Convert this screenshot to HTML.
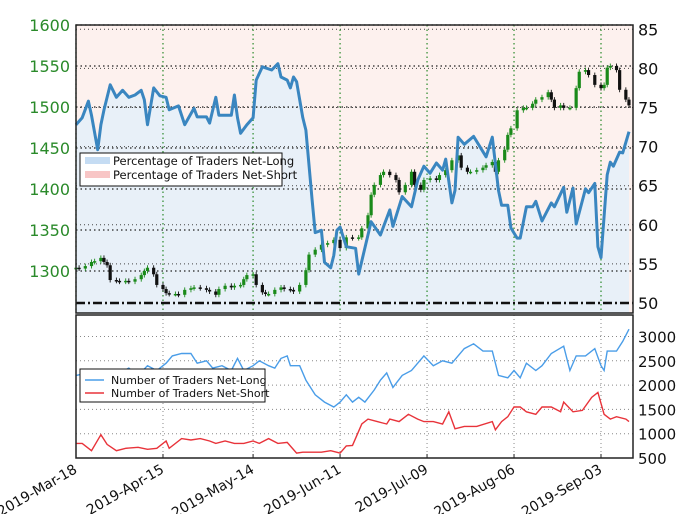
<!DOCTYPE html>
<html><head><meta charset="utf-8"><style>
body{margin:0;background:#fff;}
svg{display:block;font-family:"DejaVu Sans","Liberation Sans",sans-serif;}
</style></head><body>
<svg id="chart" width="680" height="514" viewBox="0 0 680 514" xmlns="http://www.w3.org/2000/svg"></svg>
<script>
// ---- data ----
const tickLabels = ["2019-Mar-18","2019-Apr-15","2019-May-14","2019-Jun-11","2019-Jul-09","2019-Aug-06","2019-Sep-03"];
const tickDays = [0,28,57,85,113,141,169];
const priceTicks = [1300,1350,1400,1450,1500,1550,1600];
const pctTicks = [50,55,60,65,70,75,80,85];
const countTicks = [500,1000,1500,2000,2500,3000];
const pctDays = [0,2,4,5,7,8,9,11,13,15,17,19,21,22,23,25,27,29,30,33,35,38,39,42,43,45,46,50,51,52,53,55,57,58,60,63,65,66,68,69,70,71,73,74,76,77,79,80,82,83,84,85,87,90,91,95,98,101,102,105,108,110,112,114,116,118,119,121,122,123,125,128,132,134,136,137,139,140,142,143,145,147,148,150,153,154,157,158,160,161,164,165,167,168,169,171,172,173,175,176,178];
const pctLong = [72.8,73.7,75.8,74.0,69.6,72.8,74.7,77.9,76.3,77.2,76.3,76.6,77.2,76.0,72.8,77.5,76.5,76.3,74.7,75.2,72.8,74.9,73.8,73.8,73.0,76.3,74.0,74.0,76.6,73.7,71.7,72.8,73.7,78.5,80.2,79.8,80.6,78.9,78.5,77.5,78.9,78.3,73.7,72.1,63.2,59.0,59.3,55.2,54.5,56.1,59.3,59.7,57.2,57.0,53.7,60.4,58.7,61.9,59.8,63.6,62.3,65.7,67.5,66.6,67.9,67.0,68.4,62.8,64.4,71.2,70.3,71.3,68.7,71.2,64.4,62.5,62.5,59.6,58.3,58.3,62.3,62.3,63.0,60.5,62.8,62.3,64.8,61.6,64.7,60.1,64.6,64.1,65.3,57.2,55.8,66.4,68.0,67.5,69.3,69.2,71.9];
const priceDays = [0,1,3,5,6,8,9,10,11,13,14,16,17,19,21,22,23,25,26,28,29,30,32,33,35,37,38,40,42,43,45,46,48,50,51,53,54,55,57,58,60,61,62,64,66,67,69,70,72,74,75,77,79,81,83,85,87,89,91,92,94,95,96,98,99,101,103,104,106,108,109,111,112,114,116,117,119,121,123,124,126,127,129,131,132,134,135,136,138,139,140,142,144,145,147,148,150,152,153,154,156,157,159,161,162,164,165,167,169,170,171,172,174,175,177,178];
const priceClose = [1304,1303,1306,1311,1312,1316,1311,1307,1289,1288,1287,1288,1287,1290,1295,1300,1304,1296,1283,1278,1273,1272,1272,1271,1277,1279,1280,1279,1277,1275,1271,1278,1282,1280,1282,1283,1290,1295,1296,1283,1274,1272,1272,1277,1280,1278,1277,1275,1283,1301,1320,1326,1332,1334,1338,1328,1341,1340,1341,1352,1368,1393,1405,1417,1421,1417,1411,1396,1405,1421,1405,1399,1411,1413,1411,1417,1423,1435,1441,1426,1421,1421,1423,1426,1429,1433,1421,1435,1448,1466,1474,1496,1499,1499,1504,1509,1512,1518,1509,1499,1502,1499,1499,1523,1543,1545,1539,1527,1523,1527,1548,1550,1545,1521,1509,1502];
const longDays = [0,4,7,10,14,17,20,23,26,29,31,34,37,39,42,44,47,50,52,54,57,59,62,64,66,68,69,72,74,77,80,83,85,87,89,91,93,96,98,100,102,105,108,112,115,118,121,125,128,131,134,136,139,141,143,145,148,150,153,157,159,161,164,167,169,170,171,174,176,178];
const longCount = [2200,2250,2150,2300,2250,2350,2200,2400,2300,2450,2600,2650,2650,2450,2500,2350,2400,2300,2550,2300,2400,2500,2400,2350,2550,2600,2400,2400,2100,1800,1650,1550,1650,1800,1650,1750,1650,1900,2100,2250,1950,2200,2300,2600,2400,2500,2450,2750,2850,2700,2700,2200,2150,2300,2150,2450,2300,2400,2650,2800,2300,2600,2600,2750,2400,2300,2700,2700,2900,3150];
const shortDays = [0,2,5,8,10,13,16,20,23,26,29,30,34,37,40,43,45,48,51,54,57,59,62,65,68,71,73,79,82,85,87,89,92,94,97,100,101,104,107,110,112,115,118,120,122,125,129,134,135,137,139,141,143,145,148,150,153,156,157,160,163,166,168,170,172,174,177,178];
const shortCount = [800,800,650,980,780,650,700,720,680,700,850,700,900,870,900,850,800,850,800,800,850,800,900,800,820,600,620,620,650,600,750,760,1200,1300,1250,1200,1300,1250,1400,1300,1250,1250,1200,1450,1100,1150,1150,1250,1080,1250,1350,1550,1550,1450,1400,1550,1550,1450,1650,1450,1480,1750,1850,1400,1300,1350,1300,1250];

// ---- axes ----
const X0=76, X1=633, DAYS=179.3;
const xDay = d => X0 + d*(X1-X0)/DAYS;
const yPrice = p => 25 + (1600-p)*0.82;
const yPct = v => 303 - (v-50)*7.82;
const yCnt = v => 458 - (v-500)*0.0486;
const TOP0=25, TOP1=313, BOT0=315, BOT1=458;

const svg=document.getElementById('chart');
const NS='http://www.w3.org/2000/svg';
function mk(tag,attrs,parent){const e=document.createElementNS(NS,tag);for(const k in attrs)e.setAttribute(k,attrs[k]);(parent||svg).appendChild(e);return e;}

let g=mk('g',{});


let bg=mk('rect',{x:X0,y:TOP0,width:X1-X0,height:TOP1-TOP0,fill:'#fdf1ee'},g);


let area='M'+xDay(pctDays[0])+','+TOP1;
pctDays.forEach((d,i)=>{area+=' L'+xDay(d).toFixed(1)+','+yPct(pctLong[i]).toFixed(1);});
area+=' L'+xDay(pctDays[pctDays.length-1])+','+TOP1+' Z';
let fa=mk('path',{d:area,fill:'#e8f0f8'},g);



priceTicks.forEach(p=>{const y=yPrice(p);const l=mk('line',{x1:X0,x2:X1,y1:y,y2:y,stroke:'#222','stroke-width':1.3,'stroke-dasharray':'1.5,3'},g);

});
pctTicks.forEach(p=>{const y=yPct(p);if(p===50)return;const l=mk('line',{x1:X0,x2:X1,y1:y,y2:y,stroke:'#444','stroke-width':1,'stroke-dasharray':'1,3'},g);

});
tickDays.forEach(d=>{const x=xDay(d);const l=mk('line',{x1:x,x2:x,y1:TOP0,y2:TOP1,stroke:'#2a8a2a','stroke-width':1.2,'stroke-dasharray':'1.5,3'},g);

});
let fl=mk('line',{x1:X0,x2:X1,y1:yPct(50),y2:yPct(50),stroke:'#111','stroke-width':2.5,'stroke-dasharray':'9,3,2,3'},g);



priceDays.forEach((d,i)=>{
  const c=priceClose[i], o=i>0?priceClose[i-1]:c-2;
  const up=c>=o, col=up?'#1a8a1a':'#111', x=xDay(d);
  const hi=Math.max(o,c)+3, lo=Math.min(o,c)-3;
  const w=mk('line',{x1:x,x2:x,y1:yPrice(hi),y2:yPrice(lo),stroke:col,'stroke-width':0.9},g);
  
  
  const yt=yPrice(Math.max(o,c)), h=Math.max(1.5,Math.abs(yPrice(o)-yPrice(c)));
  const b=mk('rect',{x:x-1.6,y:yt,width:3.2,height:h,fill:col},g);
  
  
});

let pl=pctDays.map((d,i)=>(i?'L':'M')+xDay(d).toFixed(1)+','+yPct(pctLong[i]).toFixed(1)).join(' ');
let pline=mk('path',{d:pl,fill:'none',stroke:'#3a86c0','stroke-width':3,'stroke-linejoin':'round'},g);



let fr=mk('rect',{x:X0,y:TOP0,width:X1-X0,height:TOP1-TOP0,fill:'none',stroke:'#222','stroke-width':1.5},g);



priceTicks.forEach(p=>{const t=mk('text',{x:70,y:yPrice(p)+6,'text-anchor':'end','font-size':16,fill:'#2a8a2a'},g);t.textContent=p;

});
pctTicks.forEach(p=>{const t=mk('text',{x:638,y:yPct(p)+6,'font-size':16,fill:'#111'},g);t.textContent=p;

});

let lg=mk('g',{});


mk('rect',{x:80,y:153,width:202,height:33,fill:'#fff',stroke:'#111','stroke-width':1},lg);
mk('rect',{x:85,y:157,width:25,height:7,fill:'#c5dcf3'},lg);
mk('rect',{x:85,y:171,width:25,height:7,fill:'#f8c6c6'},lg);
let t1=mk('text',{x:113,y:165,'font-size':11.5,fill:'#111'},lg);t1.textContent='Percentage of Traders Net-Long';


let t2=mk('text',{x:113,y:179,'font-size':11.5,fill:'#111'},lg);t2.textContent='Percentage of Traders Net-Short';



let bgp=mk('g',{});


countTicks.forEach(v=>{if(v===500)return;const y=yCnt(v);const l=mk('line',{x1:X0,x2:X1,y1:y,y2:y,stroke:'#888','stroke-width':1,'stroke-dasharray':'1,3'},bgp);

});
tickDays.forEach(d=>{const x=xDay(d);const l=mk('line',{x1:x,x2:x,y1:BOT0,y2:BOT1,stroke:'#888','stroke-width':1,'stroke-dasharray':'1,3'},bgp);

});
let ll=longDays.map((d,i)=>(i?'L':'M')+xDay(d).toFixed(1)+','+yCnt(longCount[i]).toFixed(1)).join(' ');
let lp=mk('path',{d:ll,fill:'none',stroke:'#4a9de8','stroke-width':1.4},bgp);


let sl=shortDays.map((d,i)=>(i?'L':'M')+xDay(d).toFixed(1)+','+yCnt(shortCount[i]).toFixed(1)).join(' ');
let sp=mk('path',{d:sl,fill:'none',stroke:'#e8333a','stroke-width':1.4},bgp);


let fr2=mk('rect',{x:X0,y:BOT0,width:X1-X0,height:BOT1-BOT0,fill:'none',stroke:'#222','stroke-width':1.5},bgp);


countTicks.forEach(v=>{const t=mk('text',{x:638,y:Math.min(yCnt(v)+6,465),'font-size':15,fill:'#111'},bgp);t.textContent=v;

});
tickDays.forEach((d,i)=>{const x=xDay(d);
  const tk=mk('line',{x1:x,x2:x,y1:BOT1,y2:BOT1-4,stroke:'#222'},bgp);
  
  
  const t=mk('text',{x:x+2,y:BOT1+14,'text-anchor':'end','font-size':14,fill:'#111',transform:'rotate(-30 '+(x+2)+' '+(BOT1+14)+')'},bgp);t.textContent=tickLabels[i];
  
  });

let lg2=mk('g',{});


mk('rect',{x:80,y:369,width:185,height:33,fill:'#fff',stroke:'#111','stroke-width':1},lg2);
mk('line',{x1:85,x2:104,y1:380,y2:380,stroke:'#4a9de8','stroke-width':1.5},lg2);
mk('line',{x1:85,x2:104,y1:393,y2:393,stroke:'#e8333a','stroke-width':1.5},lg2);
let t3=mk('text',{x:111,y:384,'font-size':11,fill:'#111'},lg2);t3.textContent='Number of Traders Net-Long';


let t4=mk('text',{x:111,y:397,'font-size':11,fill:'#111'},lg2);t4.textContent='Number of Traders Net-Short';


</script>
</body></html>
